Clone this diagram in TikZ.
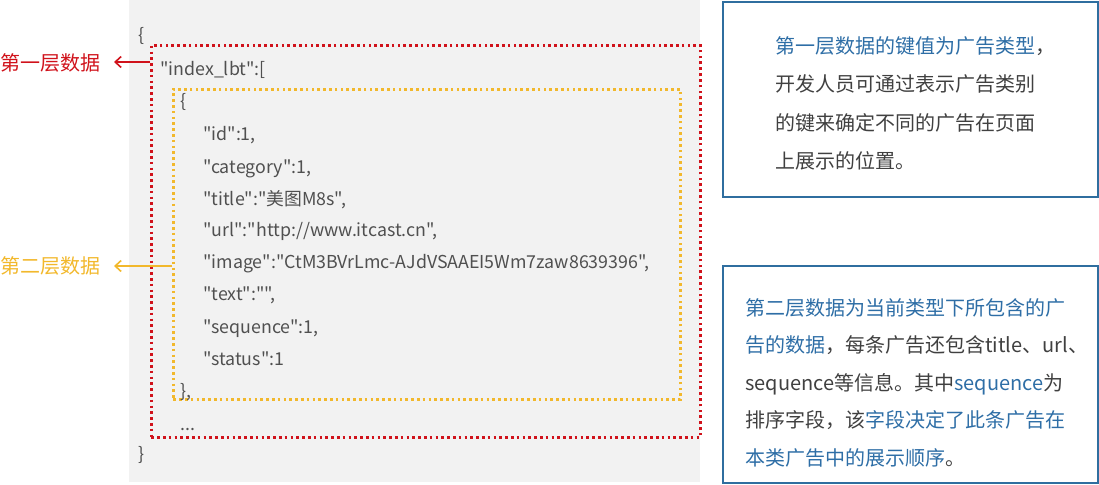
\documentclass[tikz,border=0pt]{standalone}
\usepackage{fontspec}
\setmainfont{Noto Sans CJK SC}
\newfontfamily\codefont{Noto Sans CJK SC}[Ligatures=TeXOff]
\usetikzlibrary{arrows.meta}
\definecolor{bggray}{HTML}{F2F2F2}
\definecolor{codegray}{HTML}{505050}
\definecolor{dotred}{HTML}{D0121B}
\definecolor{dotyellow}{HTML}{F2B82C}
\definecolor{txtblue}{HTML}{2E6EA6}
\definecolor{txtdark}{HTML}{404040}
\definecolor{boxblue}{HTML}{2F6E9F}
\begin{document}
\begin{tikzpicture}[x=1pt,y=-1pt,
  code/.style={anchor=base west,inner sep=0pt,font=\codefont\fontsize{17.8}{20}\selectfont,text=codegray},
  note/.style={anchor=base west,inner sep=0pt,font=\fontsize{20}{22}\selectfont,text=txtdark},
  dotbox/.style={draw,line width=2.6pt,dash pattern=on 2.6pt off 3.2pt,minimum width=#1,inner sep=0pt,anchor=north west},
  notebox/.style={draw=boxblue,line width=1.8pt,inner sep=0pt,anchor=north west},
  lab/.style={anchor=base west,inner sep=0pt,font=\fontsize{20}{22}\selectfont},
  arr/.style={line width=1.6pt,-{Straight Barb[length=6pt,width=11pt,line width=1.6pt]}}
]
\useasboundingbox (0,0) rectangle (1099,484);
\fill[bggray] (129,0) rectangle (700,482);
% dotted frames
\node[dotbox=549pt,draw=dotred,minimum height=392pt] (L1) at (150,44) {};
\node[dotbox=507pt,draw=dotyellow,minimum height=310pt] (L2) at (172,88) {};
% code
\node[code] (c0) at (138,42) {\{};
\node[code] (c1) at (160,76) {"index\_lbt":[};
\node[code] (c2) at (180,107) {\{};
\node[code] (c3) at (203,140) {"id":1,};
\node[code] (c4) at (203,173) {"category":1,};
\node[code] (c5) at (203,205) {"title":"美图M8s",};
\node[code] (c6) at (203,236) {"url":"http://www.itcast.cn",};
\node[code] (c7) at (203,268) {"image":"CtM3BVrLmc-AJdVSAAEI5Wm7zaw8639396",};
\node[code] (c8) at (203,300) {"text":"",};
\node[code] (c9) at (203,333) {"sequence":1,};
\node[code] (c10) at (203,365) {"status":1};
\node[code] (c11) at (180,397) {\},};
\node[code] (c12) at (180,430) {...};
\node[code] (c13) at (138,460) {\}};
% left labels
\node[lab,text=dotred] (lab1) at (0,71) {第一层数据};
\node[lab,text=dotyellow] (lab2) at (0,273) {第二层数据};
\coordinate (t1) at (114,62);
\coordinate (t2) at (114,266);
\draw[arr,dotred] (L1.west |- t1) -- (t1);
\draw[arr,dotyellow] (L2.west |- t2) -- (t2);
% note boxes
\node[notebox,minimum width=375pt,minimum height=195pt] (n1) at (722,1) {};
\node[notebox,minimum width=375pt,minimum height=217pt] (n2) at (722,265) {};
\node[note] (a1) at (775,54) {\textcolor{txtblue}{第一层数据的键值为广告类型}，};
\node[note] (a2) at (775,92) {开发人员可通过表示广告类别};
\node[note] (a3) at (775,130) {的键来确定不同的广告在页面};
\node[note] (a4) at (775,168) {上展示的位置。};
\node[note] (b1) at (745,315) {\textcolor{txtblue}{第二层数据为当前类型下所包含的广}};
\node[note] (b2) at (745,352.5) {\textcolor{txtblue}{告的数据}，每条广告还包含title、url、};
\node[note] (b3) at (745,390) {sequence等信息。其中\textcolor{txtblue}{sequence}为};
\node[note] (b4) at (745,427.5) {排序字段，该\textcolor{txtblue}{字段决定了此条广告在}};
\node[note] (b5) at (745,465) {\textcolor{txtblue}{本类广告中的展示顺序}。};
\end{tikzpicture}
\end{document}
